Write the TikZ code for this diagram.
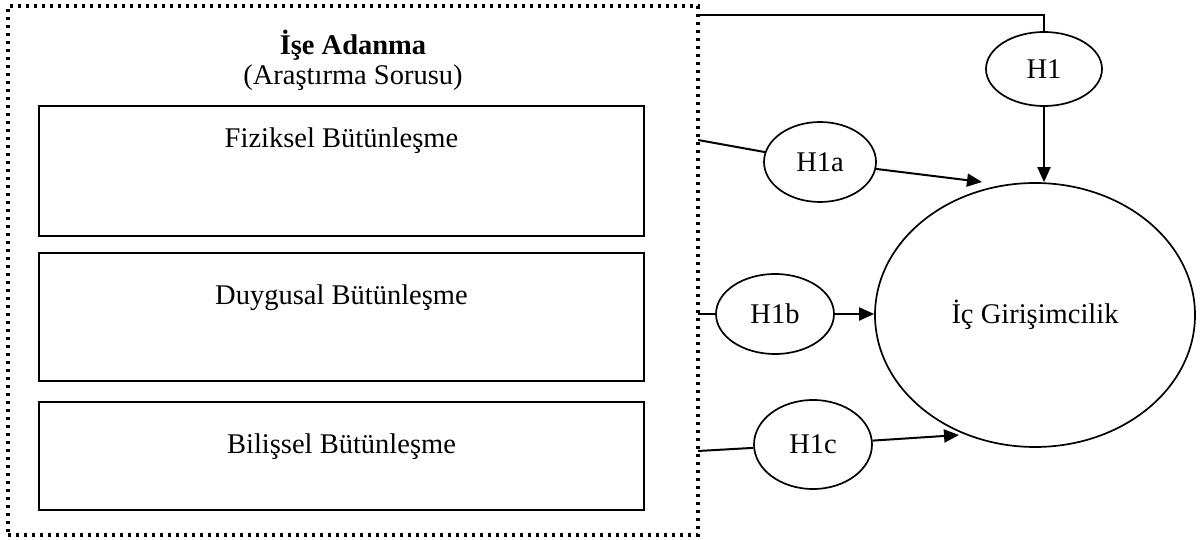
\documentclass[tikz,border=0pt]{standalone}
\usepackage{fontspec}
\setmainfont{Liberation Serif}
\usetikzlibrary{shapes.geometric,arrows.meta}
\begin{document}
\begin{tikzpicture}[x=1pt,y=-1pt,
  every node/.style={font=\fontsize{28.5}{34}\selectfont},
  box/.style={draw, line width=2pt, rectangle, minimum width=605pt, inner sep=0pt},
  hyp/.style={draw, ellipse, line width=1.7pt, inner sep=0pt},
  conn/.style={line width=2pt},
  arr/.style={conn, -{Triangle[length=15pt,width=13pt]}},
  dotbox/.style={draw, line width=3.3pt, dash pattern=on 3.3pt off 4.7pt, rectangle,
                 minimum width=690pt, minimum height=529pt, inner sep=0pt}]
\useasboundingbox (0,0) rectangle (1200,540);
% outer dotted frame
\node[dotbox] (outer) at (353,270.5) {};
\node[font=\bfseries\fontsize{28.5}{34}\selectfont] (title) at (353,45) {İşe Adanma};
\node (sub) at (353,78) {(Araştırma Sorusu)};
% inner boxes
\node[box, minimum height=130pt] (b1) at (341.5,171) {};
\node (t1) at (341.5,141) {Fiziksel Bütünleşme};
\node[box, minimum height=128pt] (b2) at (341.5,317) {};
\node (t2) at (341.5,298) {Duygusal Bütünleşme};
\node[box, minimum height=108pt] (b3) at (341.5,456) {};
\node (t3) at (341.5,447) {Bilişsel Bütünleşme};
% hypotheses
\node[hyp, minimum width=116pt, minimum height=74pt] (h1) at (1044,69) {H1};
\node[hyp, minimum width=112pt, minimum height=80pt] (h1a) at (820,162) {H1a};
\node[hyp, minimum width=118pt, minimum height=80pt] (h1b) at (775,314) {H1b};
\node[hyp, minimum width=118pt, minimum height=89pt] (h1c) at (813,444.5) {H1c};
\node[hyp, minimum width=320pt, minimum height=264pt] (ic) at (1035,315) {İç Girişimcilik};
% connector ends
\coordinate (s0) at (698,15);
\coordinate (s1) at (698,140);
\coordinate (s2) at (698,314);
\coordinate (s3) at (698,451);
\coordinate (e1) at (982,182);
\coordinate (e3) at (959,435);
% connectors
\draw[conn] (s0) -| (h1.north);
\draw[arr] (h1.south) -- (h1.south |- ic.north);
\draw[conn] (s1) -- (h1a);
\draw[arr] (h1a) -- (e1);
\draw[conn] (s2) -- (h1b.west);
\draw[arr] (h1b.east) -- (ic.west |- h1b.east);
\draw[conn] (s3) -- (h1c);
\draw[arr] (h1c) -- (e3);
\end{tikzpicture}
\end{document}
